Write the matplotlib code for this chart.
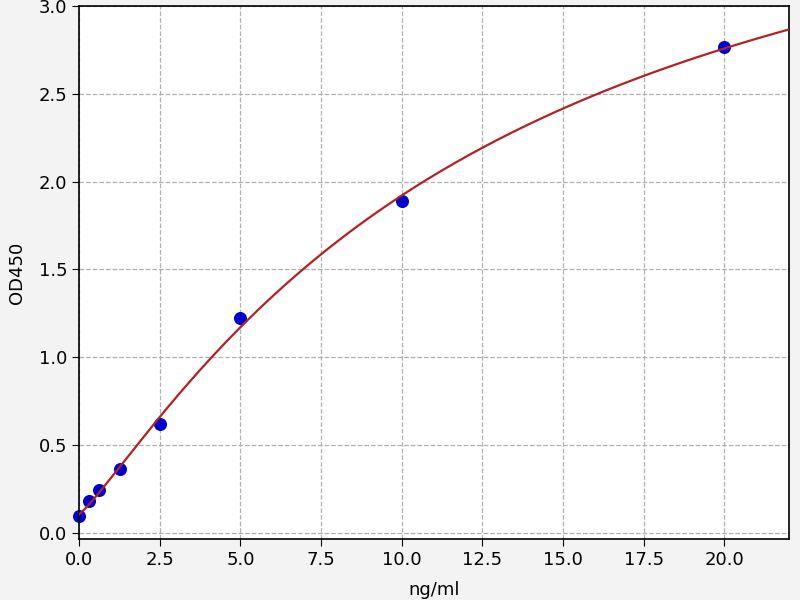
import numpy as np
from matplotlib import pyplot as plt

# standard curve data
conc = [0.0, 0.3125, 0.625, 1.25, 2.5, 5.0, 10.0, 20.0]
od450 = [0.097, 0.179, 0.242, 0.360, 0.621, 1.225, 1.891, 2.765]

x_ticks = [0.0, 2.5, 5.0, 7.5, 10.0, 12.5, 15.0, 17.5, 20.0]
y_ticks = [0.0, 0.5, 1.0, 1.5, 2.0, 2.5, 3.0]


def four_pl(x, p):
    a, b, c, d = p
    return d + (a - d) / (1.0 + (np.abs(x) / c) ** b)


def fit_4pl(x, y, p0, n_iter=500):
    # small Levenberg-Marquardt, numpy only
    x = np.asarray(x, float)
    y = np.asarray(y, float)
    p = np.asarray(p0, float)
    lam = 1e-3
    for _ in range(n_iter):
        r = y - four_pl(x, p)
        J = np.zeros((len(x), len(p)))
        for i in range(len(p)):
            dp = np.zeros_like(p)
            dp[i] = 1e-6 * max(abs(p[i]), 1.0)
            J[:, i] = (four_pl(x, p + dp) - four_pl(x, p)) / dp[i]
        A = J.T @ J
        g = J.T @ r
        step = np.linalg.solve(A + lam * np.diag(np.diag(A)), g)
        p_new = p + step
        if p_new[2] > 0 and np.sum((y - four_pl(x, p_new)) ** 2) < np.sum(r ** 2):
            p = p_new
            lam *= 0.5
        else:
            lam *= 5
    return p


params = fit_4pl(conc, od450, [0.1, 1.2, 15.0, 4.0])
xs = np.linspace(0, 22, 300)

fig = plt.figure(figsize=(8, 6), dpi=100, facecolor='#f3f3f3')
ax = fig.add_axes([0.099, 0.102, 0.887, 0.888])
ax.set_facecolor('white')

ax.scatter(conc, od450, s=70, color='#0000cc', zorder=2, clip_on=False)
ax.plot(xs, four_pl(xs, params), color='#b22222', lw=1.6, zorder=3)

ax.set_xlim(0, 22)
ax.set_ylim(-0.035, 3.0)
ax.set_xticks(x_ticks)
ax.set_yticks(y_ticks)
ax.grid(True, linestyle='--', color='#b0b0b0', lw=0.9)
ax.tick_params(labelsize=13, length=5)
for s in ax.spines.values():
    s.set_linewidth(1.2)

ax.set_xlabel('ng/ml', fontsize=13, labelpad=9)
ax.set_ylabel('OD450', fontsize=13, labelpad=9)

fig.savefig('out.png', dpi=100, facecolor=fig.get_facecolor())
